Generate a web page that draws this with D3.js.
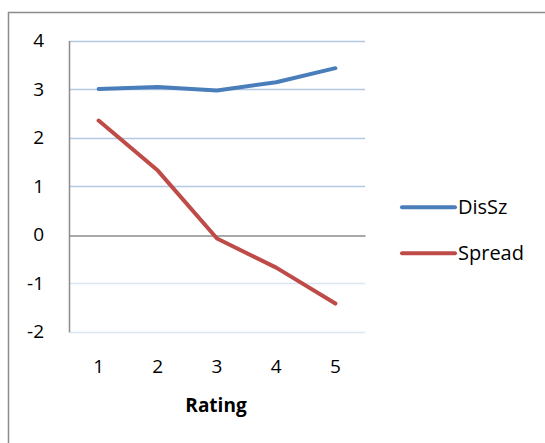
<!DOCTYPE html>
<html>
<head>
  <meta charset="utf-8">
  <script src="https://cdn.jsdelivr.net/npm/d3@7"></script>
  <style>
    body { margin: 0; background: #fff; font-family: "Open Sans", sans-serif; }
  </style>
</head>
<body>
  <div id="chart"></div>
  <script>
    const categories = ["1", "2", "3", "4", "5"];
    const disSz = [3.0, 3.04, 2.97, 3.14, 3.43];
    const spread = [2.35, 1.32, -0.08, -0.68, -1.42];
    const yTicks = [-2, -1, 0, 1, 2, 3, 4];
    const seriesNames = ["DisSz", "Spread"];
    const colors = ["#4a7ebb", "#be4b48"];

    const width = 545, height = 443;
    const plot = { left: 69, right: 365, top: 40.5, bottom: 331.7 };

    const svg = d3.select("#chart").append("svg")
      .attr("width", width)
      .attr("height", height);

    // chart border (runs off the right and bottom of the picture)
    svg.append("rect")
      .attr("x", 8.5).attr("y", 12.5)
      .attr("width", 560).attr("height", 460)
      .attr("fill", "none")
      .attr("stroke", "#8c8c8c")
      .attr("stroke-width", 1.5);

    const x = d3.scaleBand().domain(categories).range([plot.left, plot.right]);
    const y = d3.scaleLinear().domain([-2, 4]).range([plot.bottom, plot.top]);

    // gridlines
    svg.append("g")
      .selectAll("line")
      .data(yTicks.filter(d => d !== 0))
      .enter().append("line")
      .attr("x1", plot.left).attr("x2", plot.right)
      .attr("y1", d => Math.round(y(d)) + 0.5)
      .attr("y2", d => Math.round(y(d)) + 0.5)
      .attr("stroke", d => d > 0 ? "#b3c8e4" : "#dbe5f3")
      .attr("stroke-width", 1.5);

    // y axis
    const yAxis = svg.append("g")
      .attr("transform", `translate(${plot.left},0)`)
      .call(d3.axisLeft(y).tickValues(yTicks).tickSize(0).tickPadding(25).tickFormat(d => String(d)));
    yAxis.select(".domain").attr("stroke", "#8c8c8c").attr("stroke-width", 1.5);

    // zero line / category axis
    const xAxis = svg.append("g")
      .attr("transform", `translate(0,${Math.round(y(0)) + 0.5})`)
      .call(d3.axisBottom(x).tickSize(0).tickPadding(0));
    xAxis.select(".domain").attr("stroke", "#8c8c8c").attr("stroke-width", 1.5);
    xAxis.selectAll(".tick text")
      .attr("transform", `translate(0,${365 - y(0)})`)
      .attr("dy", "0.35em")
      .attr("y", 0);

    svg.selectAll(".tick text")
      .style("font-size", "19px")
      .style("font-family", "'Open Sans', sans-serif")
      .attr("fill", "#000");

    svg.append("text")
      .attr("x", 216).attr("y", 405)
      .attr("dy", "0.35em")
      .attr("text-anchor", "middle")
      .style("font-size", "19px")
      .style("font-weight", "bold")
      .text("Rating");

    const line = d3.line()
      .x((d, i) => x(categories[i]) + x.bandwidth() / 2)
      .y(d => y(d));

    [disSz, spread].forEach((vals, k) => {
      svg.append("path")
        .datum(vals)
        .attr("fill", "none")
        .attr("stroke", colors[k])
        .attr("stroke-width", 4)
        .attr("stroke-linecap", "round")
        .attr("stroke-linejoin", "round")
        .attr("d", line);
    });

    // legend
    const legend = svg.append("g")
      .selectAll("g")
      .data(seriesNames)
      .enter().append("g")
      .attr("transform", (d, i) => `translate(402,${207.3 + i * 46})`);
    legend.append("line")
      .attr("x1", 0).attr("x2", 53)
      .attr("stroke", (d, i) => colors[i])
      .attr("stroke-width", 4)
      .attr("stroke-linecap", "round");
    legend.append("text")
      .attr("x", 56)
      .attr("dy", "0.35em")
      .style("font-size", "20px")
      .text(d => d);
  </script>
</body>
</html>
